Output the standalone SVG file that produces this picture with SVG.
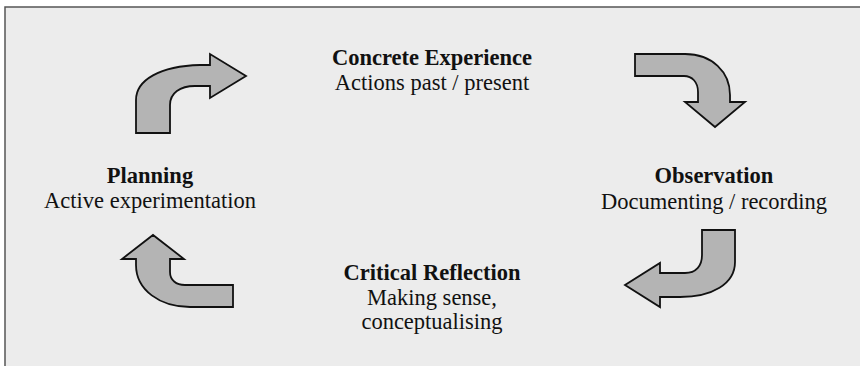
<svg xmlns="http://www.w3.org/2000/svg" width="860" height="366" viewBox="0 0 860 366">
<style>
.t{font-family:"Liberation Serif","Times New Roman",serif;font-size:22.5px;fill:#111;text-anchor:middle}
.b{font-weight:bold}
.arr{fill:#b4b4b4;stroke:#111;stroke-width:1.8;stroke-linejoin:miter}
</style>
<rect x="0" y="0" width="860" height="366" fill="#ffffff"/>
<rect x="5" y="7" width="855" height="359" fill="#ececec"/>
<path d="M5,366 L5,7 L860,7" fill="none" stroke="#555" stroke-width="1.5"/>
<g id="connectors">
<path class="arr" d="M136,133 L136,100 C136,80 160,66 200,65 L210,65 L210,54 L246,76 L210,98 L210,86 L195,86 C180,86 170,93 170,105 L170,133 Z"/>
<path class="arr" d="M635,54 L685,54 C712,54 730,72 730,95 L730,102 L745,102 L715,127 L685,102 L698,102 L698,92 C698,82 692,76 684,76 L635,76 Z"/>
<path class="arr" d="M702,230 L735,230 L735,262 C735,284 712,297 680,297 L660,297 L660,307 L625,285 L660,263 L660,273 L685,273 C696,273 702,266 702,255 Z"/>
<path class="arr" d="M233,285 L233,307 L190,307 C160,307 136,290 136,265 L136,259 L122,259 L153,235 L184,259 L170,259 L170,272 C170,280 176,285 185,285 Z"/>
</g>
<g id="concrete">
<text class="t b" x="432" y="65">Concrete Experience</text>
<text class="t" x="432" y="90">Actions past / present</text>
</g>
<g id="observation">
<text class="t b" x="714" y="183">Observation</text>
<text class="t" x="714" y="209">Documenting / recording</text>
</g>
<g id="reflection">
<text class="t b" x="432" y="280">Critical Reflection</text>
<text class="t" x="432" y="305">Making sense,</text>
<text class="t" x="432" y="329">conceptualising</text>
</g>
<g id="planning">
<text class="t b" x="150" y="183">Planning</text>
<text class="t" x="150" y="208">Active experimentation</text>
</g>
</svg>
